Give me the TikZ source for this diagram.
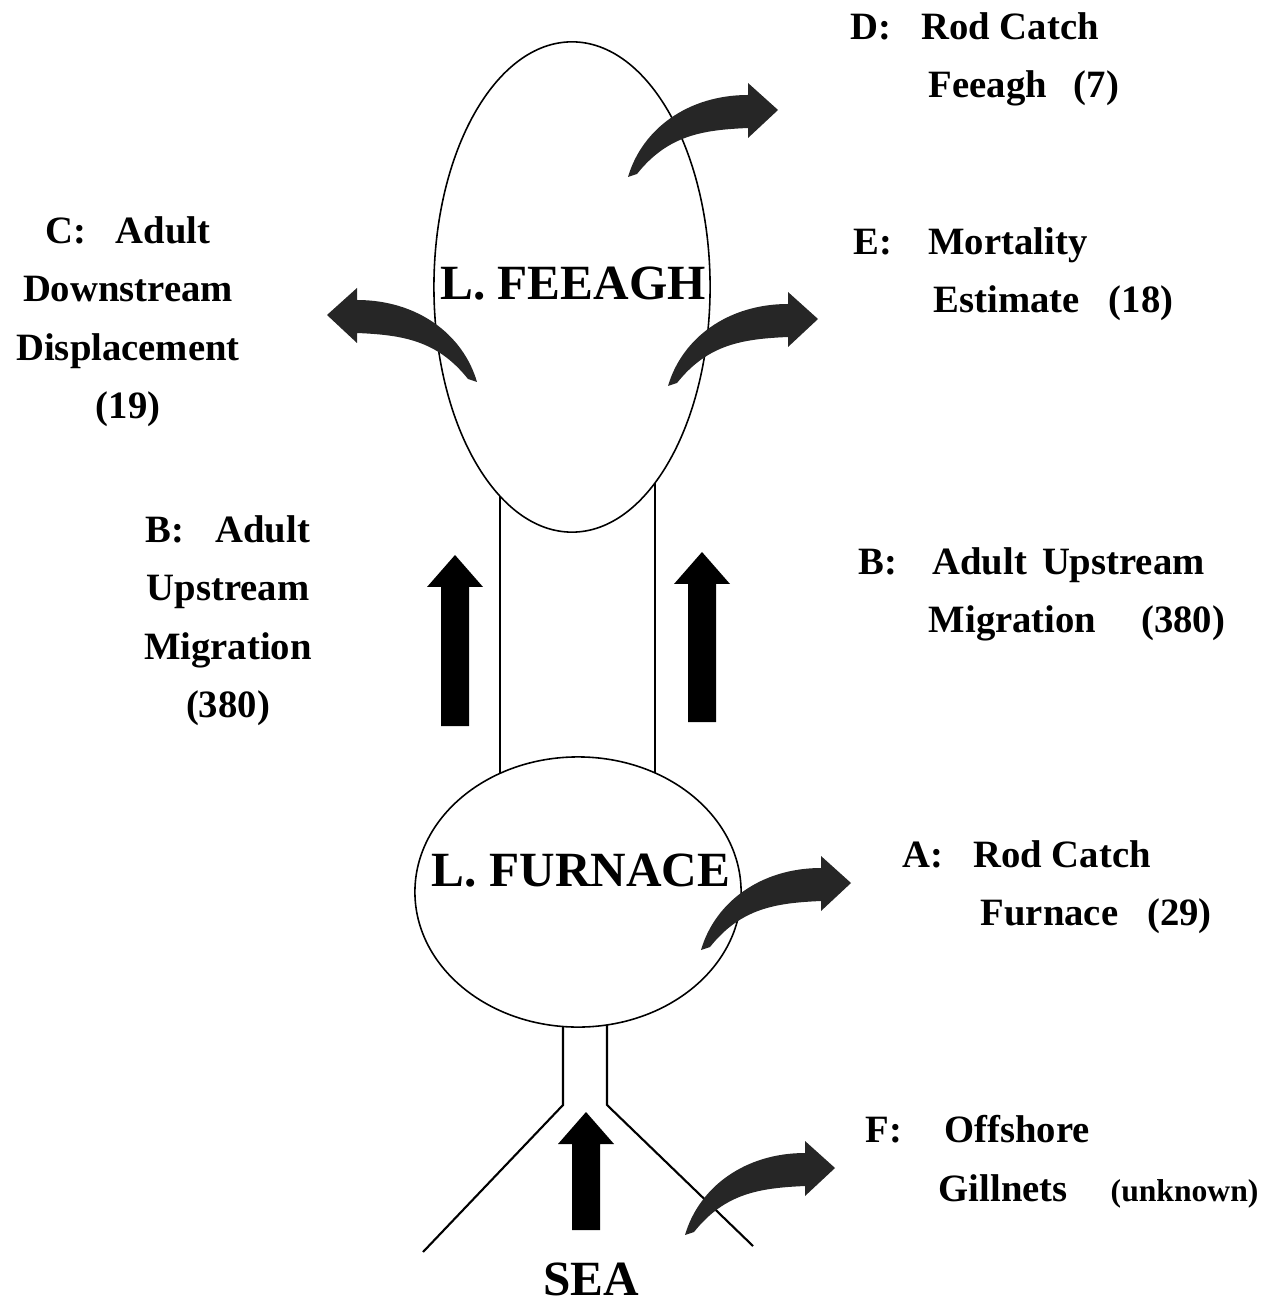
\documentclass[tikz,border=0pt]{standalone}
\usepackage{fontspec}
\setmainfont{Liberation Serif}
\usetikzlibrary{shapes.geometric}

\tikzset{
  lake/.style={draw, ellipse, line width=0.45pt, inner sep=0pt},
  lakename/.style={font=\fontsize{14}{17}\selectfont\bfseries, inner sep=0pt},
  catch/.style={font=\fontsize{11}{16.6}\selectfont\bfseries, inner sep=0pt, anchor=north west, align=left},
  catchmid/.style={catch, anchor=north, align=center},
  bank/.style={line width=0.6pt},
  pics/bent arrow/.style={code={
    \fill[black!85] (0,0) .. controls (14,-48) and (60,-82) .. (120,-82) -- (120,-94) -- (150,-67)
      -- (120,-39) -- (120,-49) .. controls (75,-47) and (40,-42) .. (9,-3) -- cycle;
  }},
  pics/up arrow/.style={code={
    \fill (-14,0) -- (-14,{-#1+32}) -- (-28,{-#1+32}) -- (0,-#1) -- (28,{-#1+32}) -- (14,{-#1+32}) -- (14,0) -- cycle;
  }}
}

\begin{document}
\begin{tikzpicture}[x=0.01cm, y=-0.01cm]
\useasboundingbox (0,0) rectangle (1271,1304);

% lakes
\node[lake, minimum width=2.76cm, minimum height=4.9cm] (feeagh) at (572,287) {};
\node[lake, minimum width=3.26cm, minimum height=2.7cm] (furnace) at (578,892) {};
\node[lakename] (feeaghname) at (573,284) {L.\ FEEAGH};
\node[lakename] (furnacename) at (581,871) {L.\ FURNACE};
\node[lakename] (sea) at (591,1279) {SEA};

% river banks
\draw[bank] (500,496) -- (500,773);
\draw[bank] (655,483) -- (655,773);
\draw[bank] (563,1026) -- (563,1105) -- (423,1252);
\draw[bank] (607,1025) -- (607,1105) -- (753,1246);

% upstream runs
\pic at (455,726) {up arrow=171};
\pic at (702,722) {up arrow=170};
\pic at (586,1230) {up arrow=118};

% losses
\pic at (628,177) {bent arrow};
\pic[xscale=-1] at (477,382) {bent arrow};
\pic at (668,386) {bent arrow};
\pic at (701,950) {bent arrow};
\pic at (685,1235) {bent arrow};

% labels
\node[catch] (rodfeeagh) at (850,12) {D:\hspace{0.30cm}Rod Catch\\\hspace*{0.78cm}Feeagh\hspace{0.27cm}(7)};
\node[catch] (mortality) at (853,227) {E:\hspace{0.36cm}Mortality\\\hspace*{0.80cm}Estimate\hspace{0.29cm}(18)};
\node[catch] (upright) at (858,547) {B:\hspace{0.35cm}Adult\hspace{0.15cm}Upstream\\\hspace*{0.70cm}Migration\hspace{0.45cm}(380)};
\node[catch] (rodfurnace) at (902,840) {A:\hspace{0.30cm}Rod Catch\\\hspace*{0.78cm}Furnace\hspace{0.29cm}(29)};
\node[catch] (gillnets) at (865,1115) {F:\hspace{0.42cm}Offshore\\\hspace*{0.73cm}Gillnets\hspace{0.43cm}{\fontsize{9}{11}\selectfont(unknown)}};
\node[catchmid] (downstream) at (128,216) {C:\hspace{0.29cm}Adult\\Downstream\\Displacement\\(19)};
\node[catchmid] (upleft) at (228,515) {B:\hspace{0.31cm}Adult\\Upstream\\Migration\\(380)};
\end{tikzpicture}
\end{document}
